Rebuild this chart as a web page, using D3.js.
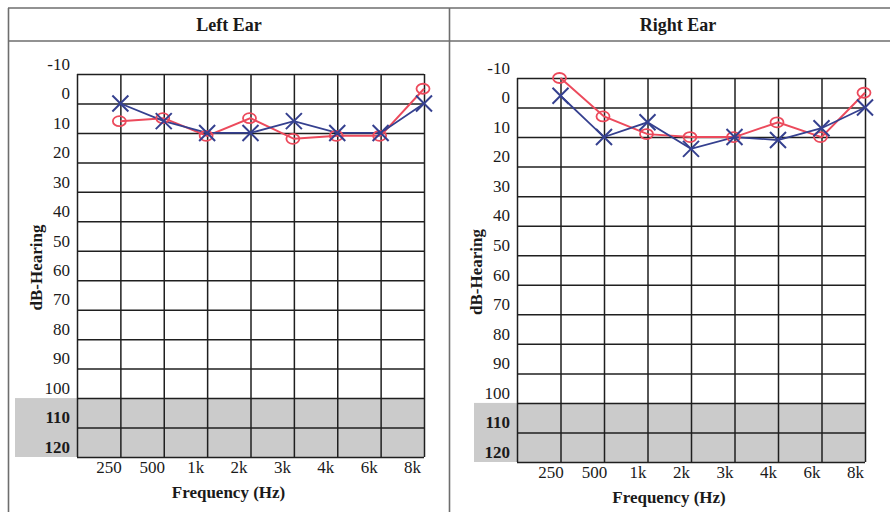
<!DOCTYPE html>
<html>
<head>
<meta charset="utf-8">
<script src="https://cdn.jsdelivr.net/npm/d3@7"></script>
<style>
  body { margin: 0; background: #fff; }
  text { font-family: "Liberation Serif", "DejaVu Serif", serif; fill: #1a1a1a; }
</style>
</head>
<body>
<div id="audio"></div>
<script>
// frequencies on the x axis and the dB ticks
var freqs = ["250", "500", "1k", "2k", "3k", "4k", "6k", "8k"];
var dbTicks = [-10, 0, 10, 20, 30, 40, 50, 60, 70, 80, 90, 100, 110, 120];

// hand plotted thresholds (dB)
var leftX = [0, 6, 10, 10, 6, 10, 10, 0];
var leftO = [6, 5, 11, 5, 12, 11, 11, -5];
var rightX = [-4, 10, 5, 14, 10, 11, 7, 0];
var rightO = [-10, 3, 9, 10, 10, 5, 10, -5];

var panels = [
  {title: "Left Ear", gx: 77, gw: 347, gy: 74, gh: 383, lblDx: -12, lblY: 468, titleX: 229,
   xs: leftX, os: leftO, grayX: 15, ylabX: 36},
  {title: "Right Ear", gx: 517, gw: 348, gy: 78, gh: 384, lblDx: -10, lblY: 473, titleX: 678,
   xs: rightX, os: rightO, grayX: 474, ylabX: 476}
];

var W = 890, H = 512;
var svg = d3.select("#audio").append("svg")
  .attr("width", W).attr("height", H);

// table borders
var border = svg.append("g").attr("stroke", "#6e6e6e").attr("stroke-width", 1.6);
border.append("line").attr("x1", 8).attr("x2", W).attr("y1", 8).attr("y2", 8);
border.append("line").attr("x1", 8).attr("x2", W).attr("y1", 41).attr("y2", 41);
border.append("line").attr("x1", 8.5).attr("x2", 8.5).attr("y1", 8).attr("y2", H);
border.append("line").attr("x1", 449.5).attr("x2", 449.5).attr("y1", 8).attr("y2", H);

var red = "#ec4a5c", blue = "#35408f";

panels.forEach(function(p) {
  var x = d3.scaleLinear().domain([0, freqs.length]).range([p.gx, p.gx + p.gw]);
  var y = d3.scaleLinear().domain([-10, 120]).range([p.gy, p.gy + p.gh]);

  // title
  svg.append("text")
    .attr("x", p.titleX).attr("y", 31)
    .attr("text-anchor", "middle")
    .style("font-size", "18px").style("font-weight", "bold")
    .text(p.title);

  // gray band 100-120 dB
  svg.append("rect")
    .attr("x", p.grayX).attr("y", y(100))
    .attr("width", p.gx + p.gw - p.grayX).attr("height", y(120) - y(100))
    .attr("fill", "#cbcbcb");

  var g = svg.append("g");

  // horizontal grid
  g.append("g")
    .attr("transform", "translate(" + p.gx + ",0)")
    .call(d3.axisLeft(y).tickValues(dbTicks).tickSize(-p.gw).tickFormat(""))
    .call(function(a) {
      a.select(".domain").remove();
      a.selectAll("line").attr("stroke", "#1f1f1f").attr("stroke-width", 1.5);
    });

  // vertical grid
  g.append("g")
    .attr("transform", "translate(0," + p.gy + ")")
    .call(d3.axisBottom(x).tickValues(d3.range(0, freqs.length + 1)).tickSize(p.gh).tickFormat(""))
    .call(function(a) {
      a.select(".domain").remove();
      a.selectAll("line").attr("stroke", "#1f1f1f").attr("stroke-width", 1.5);
    });

  // y tick labels, set a little above their lines
  g.append("g")
    .attr("transform", "translate(" + (p.gx - 7) + ",0)")
    .call(d3.axisLeft(y).tickValues(dbTicks).tickSize(0).tickPadding(0)
      .tickFormat(function(d) { return String(d); }))
    .call(function(a) {
      a.select(".domain").remove();
      a.selectAll("text")
        .attr("dy", "-0.28em")
        .style("font-size", "17px")
        .style("font-family", "Liberation Serif, serif")
        .style("font-weight", function(d) { return d >= 110 ? "bold" : "normal"; })
        .attr("fill", "#1a1a1a");
    });

  // x tick labels
  g.append("g")
    .attr("transform", "translate(" + p.lblDx + "," + (p.lblY - 7) + ")")
    .call(d3.axisBottom(x).tickValues(d3.range(1, freqs.length + 1))
      .tickSize(0).tickPadding(0).tickFormat(function(i) { return freqs[i - 1]; }))
    .call(function(a) {
      a.select(".domain").remove();
      a.selectAll("text")
        .style("font-size", "17px")
        .style("font-family", "Liberation Serif, serif")
        .attr("fill", "#1a1a1a");
    });

  // axis titles
  svg.append("text")
    .attr("x", p.gx + p.gw / 2 - 22).attr("y", p.lblY + 30)
    .attr("text-anchor", "middle")
    .style("font-size", "17px").style("font-weight", "bold")
    .text("Frequency (Hz)");

  svg.append("text")
    .attr("transform", "translate(" + p.ylabX + "," + (p.gy + p.gh / 2 + 2) + ") rotate(-90)")
    .attr("text-anchor", "middle")
    .attr("dy", "0.35em")
    .style("font-size", "17px").style("font-weight", "bold")
    .text("dB-Hearing");

  // lines
  var line = d3.line()
    .x(function(d, i) { return x(i + 1); })
    .y(function(d) { return y(d); });

  g.append("path").datum(p.os)
    .attr("d", line).attr("fill", "none")
    .attr("stroke", red).attr("stroke-width", 2);
  g.append("path").datum(p.xs)
    .attr("d", line).attr("fill", "none")
    .attr("stroke", blue).attr("stroke-width", 1.8);

  // O markers
  g.selectAll(".o").data(p.os).enter().append("ellipse")
    .attr("cx", function(d, i) { return x(i + 1) - 1; })
    .attr("cy", function(d) { return y(d); })
    .attr("rx", 6.5).attr("ry", 5)
    .attr("fill", "none").attr("stroke", red).attr("stroke-width", 1.8);

  // X markers
  var s = 8;
  g.selectAll(".x").data(p.xs).enter().append("path")
    .attr("d", function(d, i) {
      var cx = x(i + 1), cy = y(d);
      return "M" + (cx - s) + "," + (cy - s) + "L" + (cx + s) + "," + (cy + s) +
             "M" + (cx + s) + "," + (cy - s) + "L" + (cx - s) + "," + (cy + s);
    })
    .attr("stroke", blue).attr("stroke-width", 2).attr("fill", "none");
});
</script>
</body>
</html>
